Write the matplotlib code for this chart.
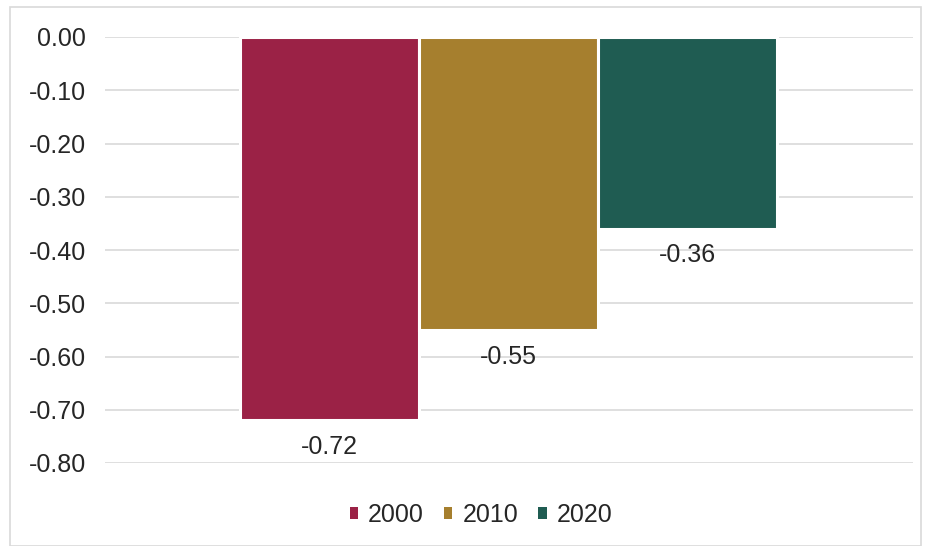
import matplotlib
matplotlib.use("Agg")
import matplotlib.pyplot as plt
from matplotlib.patches import Rectangle

years = ["2000", "2010", "2020"]
values = [-0.72, -0.55, -0.36]
colors = ["#9B2246", "#A67F2E", "#1F5C52"]
yticks = [0.0, -0.1, -0.2, -0.3, -0.4, -0.5, -0.6, -0.7, -0.8]

plt.rcParams["font.family"] = ["Liberation Sans", "DejaVu Sans"]
text_color = "#262626"

W, H = 929, 546
fig = plt.figure(figsize=(W / 100, H / 100), dpi=100)
ax = fig.add_axes([105 / W, 1 - 463 / H, 808 / W, 426 / H])

for i, (yr, v, c) in enumerate(zip(years, values, colors)):
    ax.bar(i, v, width=1.0, color=c, edgecolor="white", linewidth=2.2, label=yr, zorder=3)
    ax.text(i, v - 0.05, f"{v:.2f}", ha="center", va="center",
            fontsize=18, color=text_color, zorder=4)

ax.set_xlim(-1.254, 3.26)
ax.set_ylim(-0.8, 0.0)
ax.set_yticks(yticks)
ax.set_yticklabels([f"{t:.2f}" for t in yticks], fontsize=18, color=text_color)
ax.set_xticks([])
ax.tick_params(axis="y", length=0, pad=13.5)
ax.grid(axis="y", color="#d9d9d9", linewidth=1.2, zorder=0)
for s in ax.spines.values():
    s.set_visible(False)
ax.set_facecolor("none")

leg = ax.legend(loc="center", bbox_to_anchor=(481 / W, 1 - 515 / H),
                bbox_transform=fig.transFigure, ncol=3, frameon=False,
                fontsize=18, handlelength=0.34, handleheight=0.34,
                handletextpad=0.4, columnspacing=0.8)
for t in leg.get_texts():
    t.set_color(text_color)
for p in leg.get_patches():
    p.set_linewidth(0)

fig.patches.append(Rectangle((10 / W, 0), 911 / W, 1 - 7 / H, transform=fig.transFigure,
                             fill=False, edgecolor="#d9d9d9", linewidth=1.2))

fig.savefig("out.png", dpi=100)
